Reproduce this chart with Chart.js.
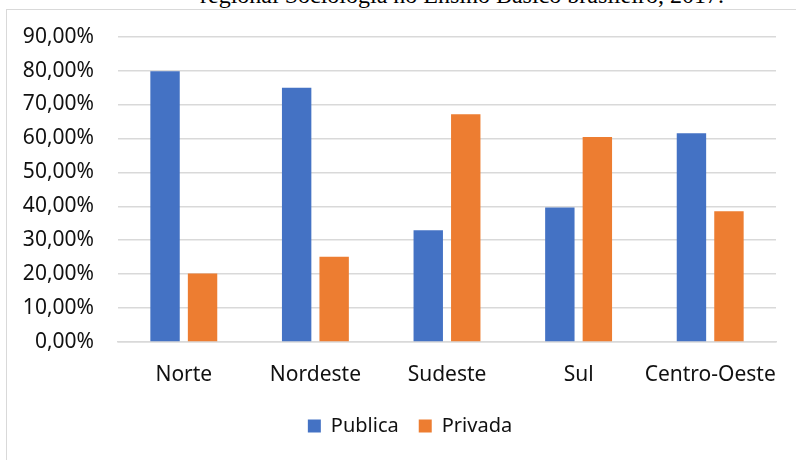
<!DOCTYPE html>
<html>
<head>
<meta charset="utf-8">
<script src="https://cdn.jsdelivr.net/npm/chart.js@4.4.1/dist/chart.umd.min.js"></script>
<style>
  html, body { margin: 0; padding: 0; background: #fff; overflow: hidden; }
  #wrap { position: relative; width: 796px; height: 460px; overflow: hidden; }
  #title { position: absolute; left: 200px; top: -18px; white-space: nowrap;
           font-family: "Liberation Serif", "DejaVu Serif", serif; font-size: 24px; color: #000; line-height: 26px; }
  #frame { position: absolute; left: 6px; top: 9px; width: 820px; height: 520px;
           border: 1.5px solid #d9d9d9; box-sizing: border-box; }
  #c { position: absolute; left: 0; top: 0; }
</style>
</head>
<body>
<div id="wrap">
  <div id="title">regional Sociologia no Ensino Básico brasileiro, 2017.</div>
  <div id="frame"></div>
  <canvas id="c" width="796" height="460"></canvas>
</div>
<script>
const categories = ["Norte", "Nordeste", "Sudeste", "Sul", "Centro-Oeste"];
const publica = [79.8, 74.9, 32.9, 39.6, 61.5];
const privada = [20.2, 25.1, 67.1, 60.4, 38.5];
const seriesNames = ["Publica", "Privada"];
const yTicksMax = 90;
const yTickStep = 10;

const FONT = "'Noto Sans', 'Liberation Sans', sans-serif";
const TEXT = "#111";

const legendShift = {
  id: "legendShift",
  afterLayout(chart) {
    if (chart.legend) { chart.legend.left += 17; chart.legend.right += 17; }
  }
};

new Chart(document.getElementById("c"), {
  type: "bar",
  data: {
    labels: categories,
    datasets: [
      { label: seriesNames[0], data: publica, backgroundColor: "#4472C4",
        categoryPercentage: 0.57, barPercentage: 0.784 },
      { label: seriesNames[1], data: privada, backgroundColor: "#ED7D31",
        categoryPercentage: 0.57, barPercentage: 0.784 }
    ]
  },
  plugins: [legendShift],
  options: {
    responsive: false,
    animation: false,
    devicePixelRatio: 1,
    layout: { padding: { left: 10, right: 20, top: 35, bottom: 14 } },
    plugins: {
      tooltip: { enabled: false },
      legend: {
        position: "bottom",
        labels: {
          font: { family: FONT, size: 20 },
          color: TEXT,
          boxWidth: 13, boxHeight: 13,
          padding: 20
        }
      }
    },
    scales: {
      x: {
        grid: { display: false, drawTicks: false },
        border: { display: true, color: "#d9d9d9", width: 1.5 },
        afterFit: (s) => { s.height = 54; s.paddingRight = 0; s.paddingLeft = 0; },
        ticks: { font: { family: FONT, size: 21 }, color: TEXT, padding: 20,
                 autoSkip: false, maxRotation: 0, minRotation: 0 }
      },
      y: {
        min: 0, max: yTicksMax,
        grid: { color: "#d9d9d9", lineWidth: 1.5, drawTicks: false },
        border: { display: false },
        afterFit: (s) => { s.width = 108; },
        ticks: {
          stepSize: yTickStep,
          padding: 24,
          font: { family: FONT, size: 21 },
          color: TEXT,
          callback: (v) => v.toFixed(2).replace(".", ",") + "%"
        }
      }
    }
  }
});
</script>
</body>
</html>
